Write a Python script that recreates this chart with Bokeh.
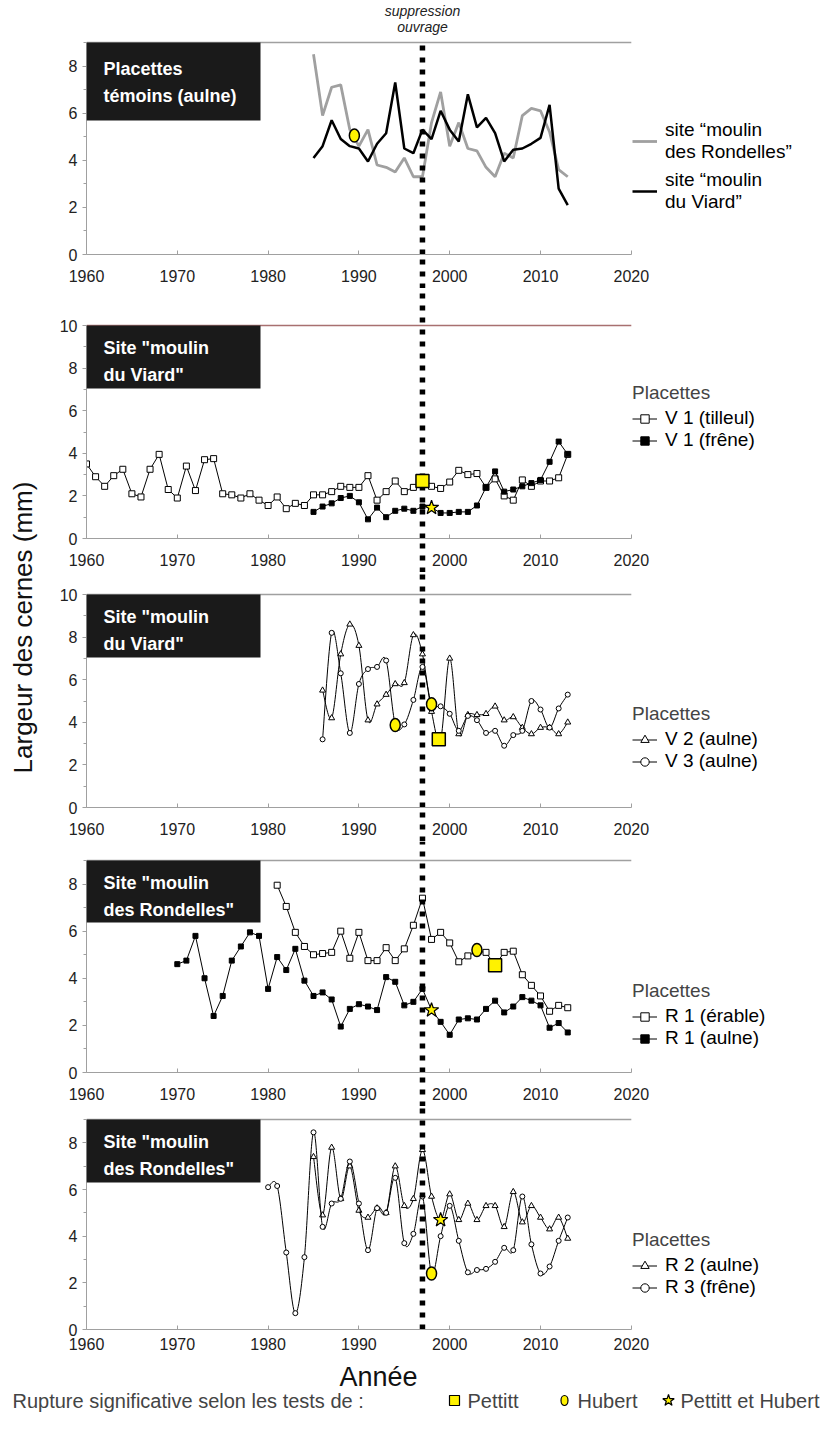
import math
from bokeh.plotting import figure
from bokeh.models import Range1d, FixedTicker, Legend, LegendItem, Label, BoxAnnotation
from bokeh.layouts import column, row
from bokeh.embed import file_html
from bokeh.resources import INLINE

FONT = "Liberation Sans"

# ---------------- data ----------------
x_ticks = [1960, 1970, 1980, 1990, 2000, 2010, 2020]
suppression_year = 1997

# panel 1 : placettes témoins (aulne)
years_temoins = list(range(1985, 2014))
temoins_rondelles = [8.5, 5.9, 7.1, 7.2, 5.3, 4.6, 5.3, 3.8, 3.7, 3.5,
                     4.1, 3.3, 3.3, 5.6, 6.9, 4.6, 5.6, 4.5, 4.4, 3.7,
                     3.3, 4.3, 4.1, 5.9, 6.2, 6.1, 5.2, 3.6, 3.3]
temoins_viard = [4.1, 4.6, 5.7, 4.9, 4.6, 4.5, 3.95, 4.7, 5.15, 7.3,
                 4.5, 4.3, 5.3, 4.9, 6.1, 5.3, 4.8, 6.8, 5.4, 5.8,
                 5.15, 3.95, 4.45, 4.5, 4.7, 4.95, 6.35, 2.8, 2.1]
hubert_p1_x = [1989.5]
hubert_p1_y = [5.05]

# panel 2 : moulin du Viard V1
years_v1_tilleul = list(range(1960, 2014))
v1_tilleul = [3.5, 2.9, 2.45, 2.95, 3.25, 2.1, 1.95, 3.25, 3.95, 2.3,
              1.9, 3.4, 2.25, 3.7, 3.75, 2.1, 2.05, 1.9, 2.1, 1.8,
              1.55, 1.95, 1.4, 1.65, 1.55, 2.05, 2.05, 2.2, 2.45, 2.4,
              2.4, 2.95, 1.8, 2.2, 2.7, 2.2, 2.4, 2.7, 2.45, 2.35,
              2.65, 3.2, 3.0, 3.05, 2.4, 2.8, 2.0, 1.8, 2.75, 2.45,
              2.7, 2.7, 2.85, 3.95]
years_v1_frene = list(range(1985, 2014))
v1_frene = [1.25, 1.5, 1.65, 1.9, 2.0, 1.7, 0.9, 1.45, 1.0, 1.3,
            1.4, 1.3, 1.5, 1.45, 1.2, 1.2, 1.25, 1.25, 1.55, 2.4,
            3.15, 2.2, 2.3, 2.45, 2.6, 2.75, 3.6, 4.55, 3.95]
pettitt_p2_x = [1997]
pettitt_p2_y = [2.7]
star_p2_x = [1998]
star_p2_y = [1.45]

# panel 3 : moulin du Viard V2 / V3
years_v23 = list(range(1986, 2014))
v2_aulne = [5.5, 4.2, 7.2, 8.6, 7.6, 4.1, 4.85, 5.3, 5.8, 5.85,
            8.1, 7.2, 4.5, 3.2, 7.0, 3.45, 4.35, 4.35, 4.4, 4.75,
            4.1, 4.25, 3.75, 3.45, 3.75, 3.75, 3.45, 4.0]
v3_aulne = [3.2, 8.2, 6.3, 3.5, 5.8, 6.5, 6.6, 6.9, 3.9, 3.9,
            5.05, 6.6, 4.85, 4.75, 4.4, 3.6, 4.3, 4.1, 3.5, 3.6,
            2.9, 3.4, 3.6, 5.0, 4.6, 3.75, 4.65, 5.3]
pettitt_p3_x = [1998.8]
pettitt_p3_y = [3.2]
hubert_p3_x = [1994, 1998]
hubert_p3_y = [3.87, 4.85]

# panel 4 : moulin des Rondelles R1
years_r1_erable = list(range(1981, 2014))
r1_erable = [7.95, 7.05, 5.95, 5.35, 5.0, 5.05, 5.1, 6.0, 4.85, 5.95,
             4.75, 4.75, 5.3, 4.75, 5.25, 6.25, 7.4, 5.65, 5.95, 5.5,
             4.7, 4.95, 5.15, 5.1, 4.55, 5.1, 5.15, 4.15, 3.7, 3.25,
             2.6, 2.85, 2.75]
years_r1_aulne = list(range(1970, 2014))
r1_aulne = [4.6, 4.75, 5.8, 4.0, 2.4, 3.25, 4.75, 5.35, 5.95, 5.8,
            3.55, 4.9, 4.35, 5.25, 3.9, 3.25, 3.4, 3.1, 1.95, 2.7,
            2.9, 2.8, 2.65, 4.05, 3.85, 2.85, 3.0, 3.55, 2.65, 2.15,
            1.6, 2.25, 2.3, 2.25, 2.7, 3.05, 2.55, 2.8, 3.2, 3.05,
            2.85, 1.9, 2.1, 1.7]
pettitt_p4_x = [2005]
pettitt_p4_y = [4.55]
hubert_p4_x = [2003]
hubert_p4_y = [5.2]
star_p4_x = [1998]
star_p4_y = [2.65]

# panel 5 : moulin des Rondelles R2 / R3
years_r2 = list(range(1985, 2014))
r2_aulne = [7.4, 4.9, 7.8, 5.6, 7.0, 5.1, 4.8, 5.2, 5.0, 7.0,
            5.3, 5.6, 7.7, 5.7, 4.7, 5.8, 4.7, 5.4, 4.7, 5.3,
            5.3, 4.4, 5.9, 4.6, 5.3, 4.8, 4.3, 4.8, 3.9]
years_r3 = list(range(1980, 2014))
r3_frene = [6.1, 6.15, 3.3, 0.7, 3.1, 8.45, 4.4, 5.4, 5.6, 7.2,
            5.4, 3.4, 5.2, 5.0, 6.5, 3.7, 4.1, 5.7, 2.4, 4.0,
            5.3, 3.8, 2.45, 2.55, 2.6, 2.9, 3.5, 3.4, 5.7, 3.65,
            2.4, 2.7, 3.8, 4.8]
hubert_p5_x = [1998]
hubert_p5_y = [2.4]
star_p5_x = [1999]
star_p5_y = [4.7]

# ---------------- layout constants (page pixels) ----------------
PAGE = 8
LEFT_W = 40
PANEL_W = 782
FRAME_LEFT = 94
PX_YEAR = 9.08
X_START = 1960
X_END = X_START + (PAGE + LEFT_W + PANEL_W - FRAME_LEFT) / PX_YEAR
BOX_RIGHT = X_START + (268 - FRAME_LEFT) / PX_YEAR
TEXT_X = X_START + (111 - FRAME_LEFT) / PX_YEAR
GRAY = "#a0a0a0"
YELLOW = "#fff200"
DARK = "#1a1a1a"
LEG_FS = "19px"
TICK_FS = "16px"


def make_panel(top, bottom, top_val, top_px, zero_px, line_color=GRAY, dots_below=True):
    band = bottom - zero_px
    ppu = (zero_px - top_px) / top_val
    ymax = top_val + (top_px - top) / ppu
    p = figure(width=PANEL_W, height=bottom - top,
               x_range=Range1d(X_START, X_END), y_range=Range1d(0, ymax),
               output_backend="svg", toolbar_location=None,
               min_border_left=FRAME_LEFT - PAGE - LEFT_W, min_border_right=0,
               min_border_top=0, min_border_bottom=band,
               outline_line_color=None)
    p.grid.visible = False
    xa = p.xaxis[0]
    xa.bounds = (1960, 2020)
    xa.axis_line_color = GRAY
    xa.major_tick_in = 4
    xa.major_tick_out = 0
    xa.major_tick_line_color = GRAY
    xa.major_label_text_font = FONT
    xa.major_label_text_font_size = TICK_FS
    xa.major_label_text_color = "#222222"
    if dots_below:
        # the "suppression ouvrage" dotted line carried through the tick-label band
        xa.ticker = FixedTicker(ticks=x_ticks, minor_ticks=[suppression_year])
        xa.minor_tick_in = 0
        xa.minor_tick_out = band
        xa.minor_tick_line_color = "black"
        xa.minor_tick_line_width = 5.5
        xa.minor_tick_line_dash = "5 7"
        xa.major_label_standoff = 15 - band
    else:
        xa.ticker = FixedTicker(ticks=x_ticks, minor_ticks=[])
        xa.minor_tick_out = 0
        xa.major_label_standoff = 8
    ya = p.yaxis[0]
    ya.bounds = (0, top_val)
    ya.ticker = FixedTicker(ticks=list(range(0, top_val + 1, 2)),
                            minor_ticks=list(range(1, top_val + 1, 2)))
    ya.axis_line_color = GRAY
    ya.major_tick_in = 0
    ya.major_tick_out = 4
    ya.minor_tick_in = 0
    ya.minor_tick_out = 3
    ya.major_tick_line_color = GRAY
    ya.minor_tick_line_color = GRAY
    ya.major_label_text_font = FONT
    ya.major_label_text_font_size = TICK_FS
    ya.major_label_text_color = "#222222"
    ya.major_label_standoff = 5
    # top border of the panel
    p.segment(x0=[1960], y0=[top_val], x1=[2020], y1=[top_val],
              line_color=line_color, line_width=1.3)
    geo = dict(ppu=ppu, ymax=ymax, top_val=top_val, top_px=top_px, zero_px=zero_px)
    return p, geo


def page_to_val(geo, py):
    return (geo["zero_px"] - py) / geo["ppu"]


def title_box(p, geo, lines, height, first=22, step=27):
    tv = geo["top_val"]
    p.add_layout(BoxAnnotation(left=X_START, right=BOX_RIGHT, top=tv,
                               bottom=tv - height / geo["ppu"],
                               fill_color=DARK, fill_alpha=1, line_alpha=0))
    for i, t in enumerate(lines):
        p.add_layout(Label(x=TEXT_X, y=tv - (first + step * i) / geo["ppu"], text=t,
                           text_baseline="middle", text_color="white",
                           text_font=FONT, text_font_size="18px",
                           text_font_style="bold"))


def dotted(p, y0, y1):
    p.segment(x0=[suppression_year], y0=[y0], x1=[suppression_year], y1=[y1],
              line_color="black", line_width=5.5, line_dash="5 7")


def smooth_line(p, xs, ys):
    # smoothed (Excel-like) curve through the data points, drawn as cubic Beziers
    n = len(xs)
    seg = dict(x0=[], y0=[], x1=[], y1=[], cx0=[], cy0=[], cx1=[], cy1=[])
    for i in range(n - 1):
        xa_, ya_ = (xs[i - 1], ys[i - 1]) if i > 0 else (xs[i], ys[i])
        xb_, yb_ = (xs[i + 2], ys[i + 2]) if i + 2 < n else (xs[i + 1], ys[i + 1])
        seg["x0"].append(xs[i]); seg["y0"].append(ys[i])
        seg["x1"].append(xs[i + 1]); seg["y1"].append(ys[i + 1])
        seg["cx0"].append(xs[i] + (xs[i + 1] - xa_) / 6.0)
        seg["cy0"].append(ys[i] + (ys[i + 1] - ya_) / 6.0)
        seg["cx1"].append(xs[i + 1] - (xb_ - xs[i]) / 6.0)
        seg["cy1"].append(ys[i + 1] - (yb_ - ys[i]) / 6.0)
    return p.bezier(line_color="black", line_width=1, **seg)


def series(p, xs, ys, marker, fill, size=6, smooth=False):
    if smooth:
        l = smooth_line(p, xs, ys)
    else:
        l = p.line(xs, ys, line_color="black", line_width=1)
    s = p.scatter(xs, ys, marker=marker, size=size, fill_color=fill,
                  line_color="black", line_width=1)
    return [l, s]


def signif(p, px=None, py=None, hx=None, hy=None, sx=None, sy=None):
    if px:
        p.scatter(px, py, marker="square", size=13, fill_color=YELLOW,
                  line_color="black", line_width=1.5)
    if hx:
        p.ellipse(x=hx, y=hy, width=10, height=13, width_units="screen",
                  height_units="screen", fill_color=YELLOW, line_color="black",
                  line_width=1.5)
    if sx:
        p.scatter(sx, sy, marker="star", size=15, fill_color=YELLOW,
                  line_color="black", line_width=1.2)


def legend(p, geo, items, bottom_page, title=None, item_h=21, spacing=0):
    kw = dict(items=items,
              location=(640 - FRAME_LEFT, geo["zero_px"] - bottom_page),
              label_text_font=FONT, label_text_font_size=LEG_FS,
              label_text_color="black",
              background_fill_alpha=0, border_line_alpha=0,
              padding=0, margin=0, spacing=spacing, glyph_width=25,
              glyph_height=item_h, label_height=item_h, label_standoff=8)
    if title:
        kw.update(title=title, title_text_font=FONT, title_text_font_size=LEG_FS,
                  title_text_font_style="normal", title_standoff=3)
    p.add_layout(Legend(**kw))


panels = []

# ---- panel 1 ----
p1, g1 = make_panel(8, 296, 9, 50, 262)
r_gray = p1.line(years_temoins, temoins_rondelles, line_color=GRAY, line_width=2.8)
r_black = p1.line(years_temoins, temoins_viard, line_color="black", line_width=2.5)
dotted(p1, 0, 9)
signif(p1, hx=hubert_p1_x, hy=hubert_p1_y)
title_box(p1, g1, ["Placettes", "témoins (aulne)"], 78, first=26, step=27)
for txt, py in (("suppression", 18), ("ouvrage", 34)):
    p1.add_layout(Label(x=suppression_year, y=page_to_val(g1, py), text=txt,
                        text_align="center", text_baseline="middle",
                        text_font=FONT, text_font_size="14px",
                        text_font_style="italic", text_color="#222222"))
legend(p1, g1, [LegendItem(label="site “moulin\ndes Rondelles”", renderers=[r_gray]),
                LegendItem(label="site “moulin\ndu Viard”", renderers=[r_black])],
       222, item_h=46, spacing=4)
panels.append(p1)

# ---- panel 2 ----
p2, g2 = make_panel(296, 580, 10, 333, 546, line_color="#a87070")
a = series(p2, years_v1_tilleul, v1_tilleul, "square", "white", 6)
b = series(p2, years_v1_frene, v1_frene, "square", "black", 5)
dotted(p2, 0, g2["ymax"])
signif(p2, px=pettitt_p2_x, py=pettitt_p2_y, sx=star_p2_x, sy=star_p2_y)
title_box(p2, g2, ["Site \"moulin", "du Viard\""], 63)
legend(p2, g2, [LegendItem(label="V 1 (tilleul)", renderers=a),
                LegendItem(label="V 1 (frêne)", renderers=b)], 459, title="Placettes")
panels.append(p2)

# ---- panel 3 ----
p3, g3 = make_panel(580, 849, 10, 602, 815)
a = series(p3, years_v23, v2_aulne, "triangle", "white", 6, smooth=True)
b = series(p3, years_v23, v3_aulne, "circle", "white", 5, smooth=True)
dotted(p3, 0, g3["ymax"])
signif(p3, px=pettitt_p3_x, py=pettitt_p3_y, hx=hubert_p3_x, hy=hubert_p3_y)
title_box(p3, g3, ["Site \"moulin", "du Viard\""], 63)
legend(p3, g3, [LegendItem(label="V 2 (aulne)", renderers=a),
                LegendItem(label="V 3 (aulne)", renderers=b)], 780, title="Placettes")
panels.append(p3)

# ---- panel 4 ----
p4, g4 = make_panel(849, 1114, 9, 868, 1080)
a = series(p4, years_r1_erable, r1_erable, "square", "white", 6)
b = series(p4, years_r1_aulne, r1_aulne, "square", "black", 5)
dotted(p4, 0, g4["ymax"])
signif(p4, px=pettitt_p4_x, py=pettitt_p4_y, hx=hubert_p4_x, hy=hubert_p4_y,
       sx=star_p4_x, sy=star_p4_y)
title_box(p4, g4, ["Site \"moulin", "des Rondelles\""], 62)
legend(p4, g4, [LegendItem(label="R 1 (érable)", renderers=a),
                LegendItem(label="R 1 (aulne)", renderers=b)], 1057, title="Placettes")
panels.append(p4)

# ---- panel 5 ----
p5, g5 = make_panel(1114, 1362, 9, 1127, 1337, dots_below=False)
a = series(p5, years_r2, r2_aulne, "triangle", "white", 6, smooth=True)
b = series(p5, years_r3, r3_frene, "circle", "white", 5, smooth=True)
dotted(p5, 0, g5["ymax"])
signif(p5, hx=hubert_p5_x, hy=hubert_p5_y, sx=star_p5_x, sy=star_p5_y)
title_box(p5, g5, ["Site \"moulin", "des Rondelles\""], 63)
legend(p5, g5, [LegendItem(label="R 2 (aulne)", renderers=a),
                LegendItem(label="R 3 (frêne)", renderers=b)], 1306, title="Placettes")
panels.append(p5)

panels_h = 1362 - PAGE

# ---- y label strip ----
ylab = figure(width=LEFT_W, height=panels_h, x_range=Range1d(0, LEFT_W),
              y_range=Range1d(0, panels_h), output_backend="svg",
              toolbar_location=None, min_border=0, outline_line_color=None)
ylab.axis.visible = False
ylab.grid.visible = False
ylab.add_layout(Label(x=22, y=panels_h - (635 - PAGE), text="Largeur des cernes (mm)",
                      angle=math.pi / 2, text_align="center", text_baseline="middle",
                      text_font=FONT, text_font_size="26px", text_color="#111111"))

# ---- bottom strip: axis title + significance legend ----
BW, BH = 822, 1421 - 1362
bot = figure(width=BW, height=BH, x_range=Range1d(0, BW), y_range=Range1d(0, BH),
             output_backend="svg", toolbar_location=None, min_border=0,
             outline_line_color=None)
bot.axis.visible = False
bot.grid.visible = False
bot.add_layout(Label(x=386 - PAGE, y=1421 - 1384, text="Année", text_align="center",
                     text_baseline="middle", text_font=FONT, text_font_size="27px",
                     text_color="#111111"))
cy = 1421 - 1408
FS = "20px"
bot.add_layout(Label(x=20 - PAGE, y=cy, text="Rupture significative selon les tests de :",
                     text_baseline="middle", text_font=FONT, text_font_size=FS))
bot.scatter([462 - PAGE], [cy], marker="square", size=10, fill_color=YELLOW,
            line_color="black", line_width=1.2)
bot.add_layout(Label(x=475 - PAGE, y=cy, text="Pettitt", text_baseline="middle",
                     text_font=FONT, text_font_size=FS))
bot.ellipse(x=[572 - PAGE], y=[cy], width=7, height=10, width_units="screen",
            height_units="screen", fill_color=YELLOW, line_color="black", line_width=1.2)
bot.add_layout(Label(x=585 - PAGE, y=cy, text="Hubert", text_baseline="middle",
                     text_font=FONT, text_font_size=FS))
bot.scatter([676 - PAGE], [cy], marker="star", size=12, fill_color=YELLOW,
            line_color="black", line_width=1.2)
bot.add_layout(Label(x=688 - PAGE, y=cy, text="Pettitt et Hubert", text_baseline="middle",
                     text_font=FONT, text_font_size=FS))

layout = column(row(ylab, column(*panels)), bot)
open("out.html", "w").write(file_html(layout, INLINE))
